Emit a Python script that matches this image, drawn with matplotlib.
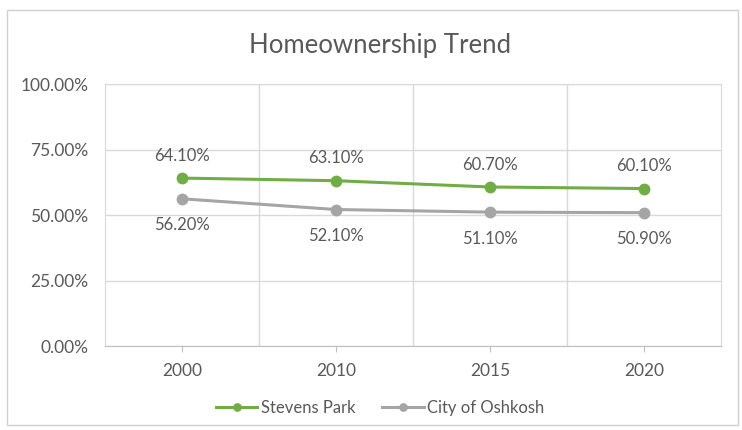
import matplotlib
matplotlib.use("Agg")
import matplotlib.pyplot as plt
from matplotlib.patches import Rectangle

years = ["2000", "2010", "2015", "2020"]
stevens_park = [64.1, 63.1, 60.7, 60.1]
city_of_oshkosh = [56.2, 52.1, 51.1, 50.9]
y_ticks = [0, 25, 50, 75, 100]

plt.rcParams["font.family"] = ["Lato", "DejaVu Sans"]
TEXT = "#595959"
GREEN = "#70AD47"
GREY = "#A5A5A5"
GRID = "#D9D9D9"

fig = plt.figure(figsize=(7.42, 4.30), dpi=100)
fig.patch.set_facecolor("white")
fig.patches.append(Rectangle((0.010, 0.012), 0.985, 0.965, transform=fig.transFigure,
                             fill=False, edgecolor="#D0D0D0", linewidth=1.0))

ax = fig.add_axes([0.1415, 0.1953, 0.830, 0.6093])
x = list(range(len(years)))

ax.plot(x, stevens_park, color=GREEN, lw=2.2, marker="o", ms=7.5,
        markerfacecolor=GREEN, markeredgecolor=GREEN, label="Stevens Park", zorder=3)
ax.plot(x, city_of_oshkosh, color=GREY, lw=2.2, marker="o", ms=7.5,
        markerfacecolor=GREY, markeredgecolor=GREY, label="City of Oshkosh", zorder=3)

for xi, v in zip(x, stevens_park):
    ax.annotate(f"{v:.2f}%", (xi, v), xytext=(0, 16), textcoords="offset points",
                ha="center", va="center", fontsize=12, color=TEXT)
for xi, v in zip(x, city_of_oshkosh):
    ax.annotate(f"{v:.2f}%", (xi, v), xytext=(0, -19), textcoords="offset points",
                ha="center", va="center", fontsize=12, color=TEXT)

ax.set_xlim(-0.5, len(years) - 0.5)
ax.set_ylim(0, 100)
ax.set_yticks(y_ticks)
ax.set_yticklabels([f"{t:.2f}%" for t in y_ticks])
ax.set_xticks(x)
ax.set_xticklabels(years)
ax.set_xticks([i + 0.5 for i in x[:-1]], minor=True)

ax.grid(True, axis="y", which="major", color=GRID, lw=1)
ax.grid(True, axis="x", which="minor", color=GRID, lw=1)
ax.grid(False, axis="x", which="major")
ax.set_axisbelow(True)

for side in ("top", "right", "left"):
    ax.spines[side].set_color(GRID)
ax.spines["bottom"].set_color("#BFBFBF")
ax.tick_params(axis="y", length=0, pad=12, labelsize=12.5, labelcolor=TEXT)
ax.tick_params(axis="x", which="major", length=4, color="#BFBFBF", pad=8,
               labelsize=12.5, labelcolor=TEXT)
ax.tick_params(axis="x", which="minor", length=0)

fig.text(0.512, 0.895, "Homeownership Trend", ha="center", va="center",
         fontsize=18.5, color=TEXT)

fig.legend(loc="center", bbox_to_anchor=(0.512, 0.052), ncol=2, frameon=False,
           fontsize=12, labelcolor=TEXT, handlelength=2.5, columnspacing=1.6,
           handletextpad=0.2, markerscale=0.7)

fig.savefig("out.png", dpi=100, facecolor="white")
